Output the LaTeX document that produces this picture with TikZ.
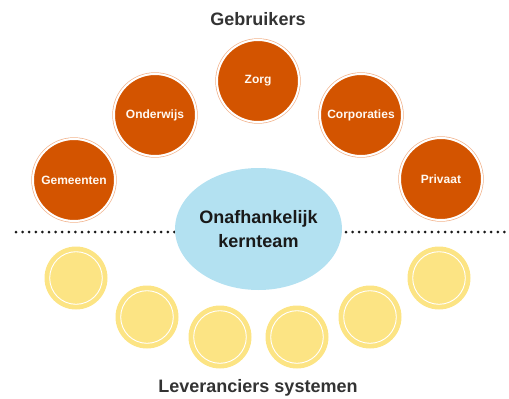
\documentclass[tikz,border=0pt]{standalone}
\usepackage{fontspec}
\setmainfont{Liberation Sans}
\usepackage{xcolor}
\usetikzlibrary{shapes.geometric, positioning, backgrounds}

\definecolor{userorange}{HTML}{D35400}
\definecolor{ringorange}{HTML}{F2B38C}
\definecolor{coinyellow}{HTML}{FCE484}
\definecolor{coreblue}{HTML}{B3E1F1}
\definecolor{titlegray}{HTML}{333333}

\begin{document}
\begin{tikzpicture}[
    x=1pt, y=-1pt,
    user/.style={circle, fill=userorange, minimum size=82pt, inner sep=0pt, text=white!95!orange, font=\bfseries\fontsize{12}{14}\selectfont, preaction={draw=ringorange, line width=3.4pt}, draw=white, line width=2pt},
    supplier/.style={circle, fill=coinyellow, minimum size=63pt, inner sep=0pt, path picture={\draw[white, line width=0.9pt] (path picture bounding box.center) circle (26.3pt);}},
    core/.style={ellipse, fill=coreblue, minimum width=163pt, minimum height=122pt, inner sep=0pt, align=center, font=\bfseries\fontsize{18}{24}\selectfont, text=black!90},
    title/.style={font=\bfseries\fontsize{18}{22}\selectfont, text=titlegray},
    divider/.style={line width=3pt, line cap=round, dash pattern=on 0pt off 6.6pt, black!90},
]
\useasboundingbox (0,0) rectangle (509,399);

% Titles
\node[title] (users) at (258,19) {Gebruikers};
\node[title] (suppliers) at (258,388) {Leveranciers systemen};

% Users
\node[user] (gemeenten) at (74,180) {Gemeenten};
\node[user] (onderwijs) at (155,115) {Onderwijs};
\node[user] (zorg) at (258,81) {Zorg};
\node[user] (corporaties) at (361,115) {Corporaties};
\node[user] (privaat) at (441,179) {Privaat};

% Divider
\coordinate (divleft) at (16,232);
\coordinate (divright) at (505,232);
\draw[divider] (divleft) -- (divright);

% Core team
\node[core] (kernteam) at (258.5,229) {Onafhankelijk\\kernteam};

% Suppliers
\node[supplier] (sup1) at (76,278) {};
\node[supplier] (sup2) at (147,317) {};
\node[supplier] (sup3) at (220,337) {};
\node[supplier] (sup4) at (297,337) {};
\node[supplier] (sup5) at (370,317) {};
\node[supplier] (sup6) at (439,278) {};

\end{tikzpicture}
\end{document}
